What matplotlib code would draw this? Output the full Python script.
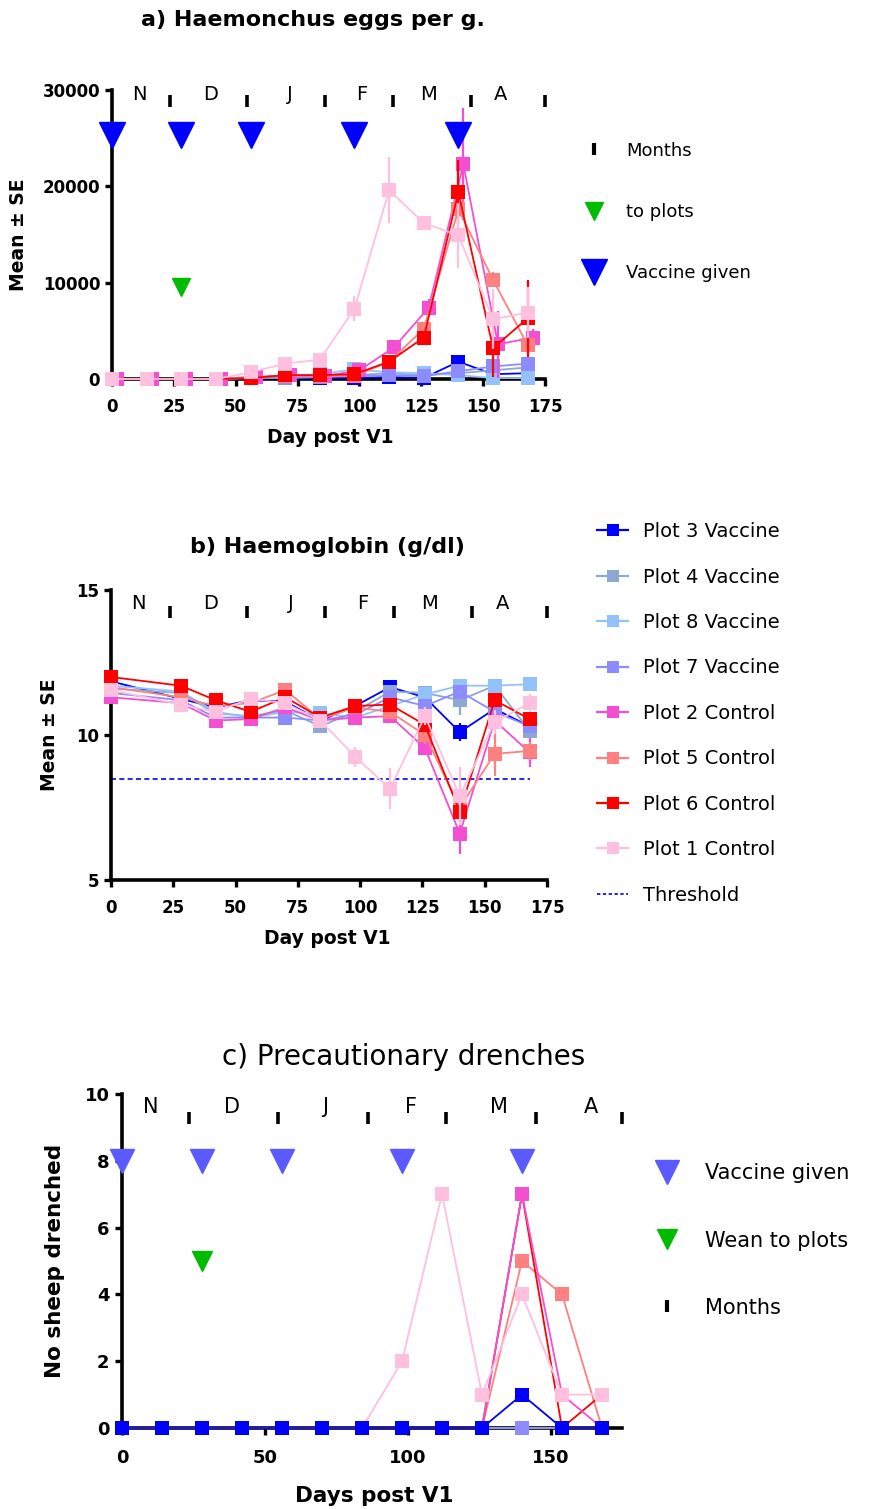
import matplotlib
matplotlib.use('Agg')
import numpy as np
import matplotlib.pyplot as plt
from matplotlib.lines import Line2D

plt.rcParams['font.family'] = ['DejaVu Sans']

# sampling days (plot 2 faecal samples were taken two days after the others)
egg_days = [0, 14, 28, 42, 56, 70, 84, 98, 112, 126, 140, 154, 168]
egg_days_p2 = [2, 16, 30, 44, 58, 72, 86, 100, 114, 128, 142, 156, 170]
hb_days = [0, 28, 42, 56, 70, 84, 98, 112, 126, 140, 154, 168]
drench_days = [0, 14, 28, 42, 56, 70, 84, 98, 112, 126, 140, 154, 168]

vaccine_days = [0, 28, 56, 98, 140]
wean_day = 28
month_ends = [23.5, 54.5, 86, 113.5, 145, 175]
month_names = ['N', 'D', 'J', 'F', 'M', 'A']
month_mid_ab = [11, 40, 72, 101, 128, 157]
month_mid_c = [10, 38.5, 71, 101, 132, 164]
hb_threshold = 8.5

groups = ['Plot 3 Vaccine', 'Plot 4 Vaccine', 'Plot 8 Vaccine', 'Plot 7 Vaccine',
          'Plot 2 Control', 'Plot 5 Control', 'Plot 6 Control', 'Plot 1 Control']
colors = ['#0000FF', '#8DA9D1', '#93C2FB', '#8C8CFF',
          '#F24FD3', '#FF8080', '#FF0000', '#FFBFDF']

# a) Haemonchus eggs per g (mean, SE)
egg_p3 = [0, 0, 0, 0, 100, 100, 100, 100, 200, 100, 1800, 500, 600]
egg_p4 = [0, 0, 0, 0, 100, 200, 300, 400, 600, 400, 600, 900, 1200]
egg_p8 = [0, 0, 0, 0, 200, 300, 500, 1000, 700, 600, 400, 100, 100]
egg_p7 = [0, 0, 0, 0, 100, 100, 200, 300, 400, 300, 800, 1300, 1600]
egg_p2 = [0, 0, 0, 0, 200, 400, 300, 900, 3300, 7400, 22300, 3600, 4300]
egg_p5 = [0, 0, 0, 0, 200, 300, 300, 300, 1800, 5200, 17600, 10300, 3500]
egg_p6 = [0, 0, 0, 0, 100, 400, 400, 500, 1800, 4300, 19400, 3200, 6300]
egg_p1 = [0, 0, 0, 0, 700, 1600, 2000, 7300, 19600, 16200, 14900, 6200, 6900]

egg_se_p3 = [0, 0, 0, 0, 50, 50, 50, 50, 100, 100, 400, 200, 200]
egg_se_p4 = [0, 0, 0, 0, 50, 100, 100, 100, 200, 100, 200, 300, 300]
egg_se_p8 = [0, 0, 0, 0, 100, 100, 100, 300, 200, 200, 100, 100, 100]
egg_se_p7 = [0, 0, 0, 0, 50, 50, 100, 100, 100, 100, 300, 300, 300]
egg_se_p2 = [0, 0, 0, 0, 100, 100, 100, 200, 300, 900, 5800, 3500, 900]
egg_se_p5 = [0, 0, 0, 0, 100, 100, 100, 100, 300, 500, 1000, 800, 600]
egg_se_p6 = [0, 0, 0, 0, 100, 100, 100, 200, 300, 300, 3300, 3000, 4000]
egg_se_p1 = [0, 0, 0, 0, 200, 300, 300, 1300, 3400, 400, 3400, 3100, 2600]

# b) Haemoglobin g/dl (mean, SE)
hb_p3 = [11.85, 11.25, 10.95, 11.2, 11.15, 10.5, 11.0, 11.65, 11.3, 10.1, 10.9, 10.3]
hb_p4 = [11.6, 11.45, 10.75, 10.65, 10.85, 10.3, 10.8, 11.5, 11.45, 11.2, 11.7, 10.15]
hb_p8 = [11.7, 11.5, 10.8, 10.6, 10.8, 10.75, 10.6, 11.0, 11.4, 11.7, 11.7, 11.75]
hb_p7 = [11.45, 11.2, 10.6, 10.6, 10.6, 10.5, 10.7, 11.3, 11.0, 11.5, 10.8, 10.3]
hb_p2 = [11.3, 11.1, 10.5, 10.55, 10.95, 10.5, 10.6, 10.65, 9.55, 6.6, 10.5, 9.4]
hb_p5 = [11.65, 11.3, 11.0, 11.1, 11.55, 10.55, 10.95, 10.8, 10.0, 7.5, 9.35, 9.45]
hb_p6 = [12.0, 11.7, 11.2, 10.8, 11.3, 10.6, 11.0, 11.05, 10.35, 7.35, 11.2, 10.55]
hb_p1 = [11.55, 11.05, 10.8, 11.25, 11.1, 10.5, 9.25, 8.15, 10.65, 7.9, 10.45, 11.1]

hb_se_p3 = [0.15, 0.15, 0.15, 0.15, 0.15, 0.15, 0.15, 0.15, 0.15, 0.3, 0.15, 0.2]
hb_se_p4 = [0.15, 0.15, 0.15, 0.15, 0.15, 0.15, 0.15, 0.2, 0.2, 0.5, 0.2, 0.25]
hb_se_p8 = [0.15, 0.15, 0.15, 0.15, 0.15, 0.15, 0.15, 0.15, 0.15, 0.2, 0.15, 0.2]
hb_se_p7 = [0.15, 0.15, 0.15, 0.15, 0.15, 0.15, 0.15, 0.15, 0.2, 0.2, 0.2, 0.2]
hb_se_p2 = [0.15, 0.1, 0.15, 0.15, 0.15, 0.1, 0.15, 0.2, 0.2, 0.7, 0.3, 0.5]
hb_se_p5 = [0.15, 0.15, 0.15, 0.15, 0.2, 0.15, 0.15, 0.2, 0.3, 0.5, 0.75, 0.3]
hb_se_p6 = [0.2, 0.2, 0.15, 0.15, 0.15, 0.15, 0.2, 0.2, 0.2, 0.35, 0.2, 0.2]
hb_se_p1 = [0.15, 0.15, 0.15, 0.15, 0.15, 0.15, 0.35, 0.7, 0.3, 1.0, 0.4, 0.3]

# c) number of sheep given a precautionary drench
dr_p3 = [0, 0, 0, 0, 0, 0, 0, 0, 0, 0, 1, 0, 0]
dr_p4 = [0, 0, 0, 0, 0, 0, 0, 0, 0, 0, 0, 0, 0]
dr_p8 = [0, 0, 0, 0, 0, 0, 0, 0, 0, 0, 0, 0, 0]
dr_p7 = [0, 0, 0, 0, 0, 0, 0, 0, 0, 0, 0, 0, 0]
dr_p2 = [0, 0, 0, 0, 0, 0, 0, 0, 0, 0, 7, 1, 0]
dr_p5 = [0, 0, 0, 0, 0, 0, 0, 0, 0, 0, 5, 4, 0]
dr_p6 = [0, 0, 0, 0, 0, 0, 0, 0, 0, 0, 7, 0, 1]
dr_p1 = [0, 0, 0, 0, 0, 0, 0, 2, 7, 1, 4, 1, 1]

egg_mean = [egg_p3, egg_p4, egg_p8, egg_p7, egg_p2, egg_p5, egg_p6, egg_p1]
egg_se = [egg_se_p3, egg_se_p4, egg_se_p8, egg_se_p7, egg_se_p2, egg_se_p5, egg_se_p6, egg_se_p1]
hb_mean = [hb_p3, hb_p4, hb_p8, hb_p7, hb_p2, hb_p5, hb_p6, hb_p1]
hb_se = [hb_se_p3, hb_se_p4, hb_se_p8, hb_se_p7, hb_se_p2, hb_se_p5, hb_se_p6, hb_se_p1]
drenched = [dr_p3, dr_p4, dr_p8, dr_p7, dr_p2, dr_p5, dr_p6, dr_p1]


def style_axes(ax, xticks, yticks, size=12, xpad=9, ypad=3.5):
    for s in ['top', 'right']:
        ax.spines[s].set_visible(False)
    for s in ['left', 'bottom']:
        ax.spines[s].set_linewidth(2.6)
    ax.set_xticks(xticks, [str(t) for t in xticks], fontweight='bold', fontsize=size)
    ax.set_yticks(yticks, [str(t) for t in yticks], fontweight='bold', fontsize=size)
    ax.tick_params(axis='both', width=2.4, length=5)
    ax.tick_params(axis='x', pad=xpad)
    ax.tick_params(axis='y', pad=ypad)


def months(ax, mids, y_bar, y_txt, size=14):
    ax.plot(month_ends, [y_bar] * len(month_ends), ls='none', marker='|', ms=8,
            mew=2.6, color='black', clip_on=False, zorder=6)
    for name, d in zip(month_names, mids):
        ax.text(d, y_txt, name, ha='center', va='center', fontsize=size)


def series(ax, x, y, se, color, z):
    ax.errorbar(x, y, yerr=se, color=color, marker='s', ms=10, mec=color, mew=0,
                lw=1.3, elinewidth=1.6, capsize=5, capthick=1.6,
                clip_on=False, zorder=z)


fig = plt.figure(figsize=(8.77, 15.09), dpi=100)

# ---- a) egg counts
ax_a = fig.add_axes([112 / 877, 1 - 379 / 1509, 433 / 877, 289 / 1509])
for i, (m, s, c) in enumerate(zip(egg_mean, egg_se, colors)):
    x = egg_days_p2 if groups[i] == 'Plot 2 Control' else egg_days
    series(ax_a, x, m, s, c, 3 + i * 0.1)
ax_a.set_xlim(0, 175)
ax_a.set_ylim(0, 30000)
style_axes(ax_a, [0, 25, 50, 75, 100, 125, 150, 175], [0, 10000, 20000, 30000])
months(ax_a, month_mid_ab, 28900, 29500)
ax_a.plot(vaccine_days, [25300] * len(vaccine_days), ls='none', marker='v', ms=19,
          color='#0000FF', clip_on=False, zorder=8)
ax_a.plot([wean_day], [9600], ls='none', marker='v', ms=13, color='#00BB00', zorder=8)
ax_a.set_xlabel('Day post V1', fontweight='bold', fontsize=13.5)
ax_a.xaxis.set_label_coords(0.503, -0.204)
ax_a.xaxis.label.set_va('center')
ax_a.set_ylabel('Mean ± SE', fontweight='bold', fontsize=13.5)
ax_a.yaxis.set_label_coords(-0.217, 0.5)
ax_a.yaxis.label.set_va('center')
fig.text(313 / 877, 1 - 20 / 1509, 'a) Haemonchus eggs per g.', ha='center', va='center',
         fontweight='bold', fontsize=16)

leg_a = [Line2D([], [], ls='none', marker='|', ms=8, mew=3, color='black', label='Months'),
         Line2D([], [], ls='none', marker='v', ms=13, color='#00BB00', label='to plots'),
         Line2D([], [], ls='none', marker='v', ms=19, color='#0000FF', label='Vaccine given')]
fig.legend(handles=leg_a, loc='upper left', bbox_to_anchor=(0.665, 0.9062), frameon=False,
           borderpad=0, borderaxespad=0, fontsize=13, handlelength=1.2,
           handletextpad=1.18, labelspacing=2.4)

# ---- b) haemoglobin
ax_b = fig.add_axes([111 / 877, 1 - 880 / 1509, 436 / 877, 290 / 1509])
for i, (m, s, c) in enumerate(zip(hb_mean, hb_se, colors)):
    series(ax_b, hb_days, m, s, c, 3 + i * 0.1)
ax_b.plot([hb_days[0], hb_days[-1]], [hb_threshold, hb_threshold], color='#0000FF',
          ls=(0, (3, 2)), lw=1.2, zorder=2)
ax_b.set_xlim(0, 175)
ax_b.set_ylim(5, 15)
style_axes(ax_b, [0, 25, 50, 75, 100, 125, 150, 175], [5, 10, 15])
months(ax_b, month_mid_ab, 14.24, 14.55)
ax_b.set_xlabel('Day post V1', fontweight='bold', fontsize=13.5)
ax_b.xaxis.set_label_coords(0.495, -0.203)
ax_b.xaxis.label.set_va('center')
ax_b.set_ylabel('Mean ± SE', fontweight='bold', fontsize=13.5)
ax_b.yaxis.set_label_coords(-0.14, 0.5)
ax_b.yaxis.label.set_va('center')
fig.text(327 / 877, 1 - 547 / 1509, 'b) Haemoglobin (g/dl)', ha='center', va='center',
         fontweight='bold', fontsize=16)

leg_b = [Line2D([], [], color=c, marker='s', ms=9, mew=0, lw=1.6, label=g)
         for g, c in zip(groups, colors)]
leg_b.append(Line2D([], [], color='#0000FF', ls=(0, (2, 1.5)), lw=1.2, label='Threshold'))
fig.legend(handles=leg_b, loc='upper left', bbox_to_anchor=(0.6807, 0.6540), frameon=False,
           borderpad=0, borderaxespad=0, fontsize=14, handlelength=1.6,
           handletextpad=0.75, labelspacing=1.36)

# ---- c) precautionary drenches
ax_c = fig.add_axes([122 / 877, 1 - 1428 / 1509, 500 / 877, 334 / 1509])
draw_order = [1, 2, 3, 5, 6, 4, 7, 0]
for k, i in enumerate(draw_order):
    ax_c.plot(drench_days, drenched[i], color=colors[i], marker='s', ms=10, mew=0,
              lw=1.3, clip_on=False, zorder=3 + k * 0.1)
ax_c.set_xlim(0, 175)
ax_c.set_ylim(0, 10)
style_axes(ax_c, [0, 50, 100, 150], [0, 2, 4, 6, 8, 10], size=13, xpad=10, ypad=4)
months(ax_c, month_mid_c, 9.28, 9.6, size=15)
ax_c.plot(vaccine_days, [8] * len(vaccine_days), ls='none', marker='v', ms=17,
          color='#5A5AFF', clip_on=False, zorder=8)
ax_c.plot([wean_day], [5], ls='none', marker='v', ms=14, color='#00BB00', zorder=8)
ax_c.set_xlabel('Days post V1', fontweight='bold', fontsize=15.5)
ax_c.xaxis.set_label_coords(0.504, -0.204)
ax_c.xaxis.label.set_va('center')
ax_c.set_ylabel('No sheep drenched', fontweight='bold', fontsize=15.5)
ax_c.yaxis.set_label_coords(-0.134, 0.5)
ax_c.yaxis.label.set_va('center')
fig.text(404 / 877, 1 - 1057 / 1509, 'c) Precautionary drenches', ha='center', va='center',
         fontsize=20)

leg_c = [Line2D([], [], ls='none', marker='v', ms=17, color='#5A5AFF', label='Vaccine given'),
         Line2D([], [], ls='none', marker='v', ms=14, color='#00BB00', label='Wean to plots'),
         Line2D([], [], ls='none', marker='|', ms=8, mew=3, color='black', label='Months')]
fig.legend(handles=leg_c, loc='upper left', bbox_to_anchor=(0.7463, 0.2290), frameon=False,
           borderpad=0, borderaxespad=0, fontsize=15, handlelength=1.2,
           handletextpad=1.22, labelspacing=2.26)

fig.savefig('out.png', dpi=100)
